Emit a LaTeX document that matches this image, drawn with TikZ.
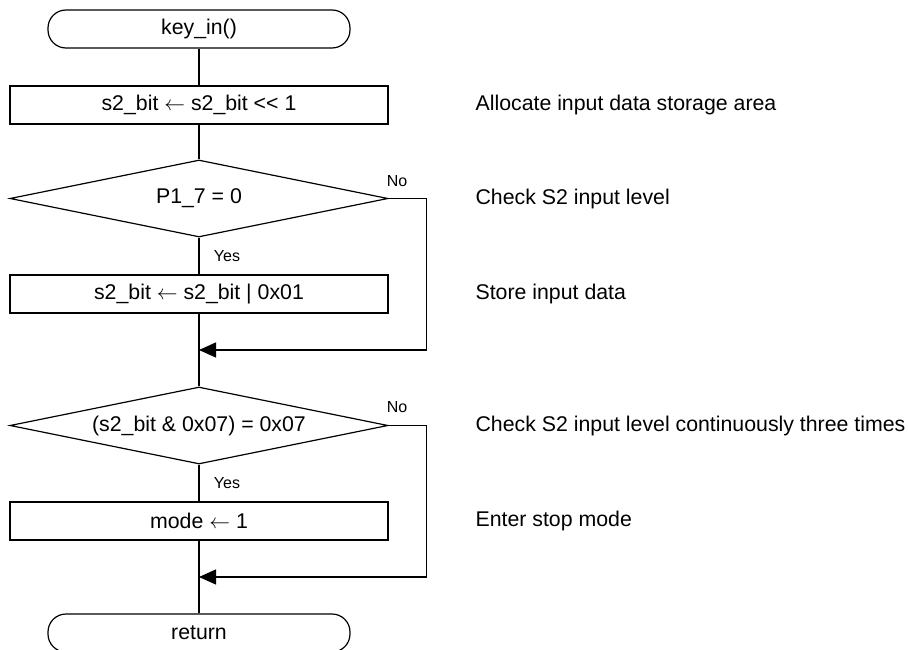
\documentclass[tikz,border=0pt]{standalone}
\usepackage{fontspec}
\setmainfont{Liberation Sans}
\usetikzlibrary{arrows.meta,shapes.geometric}
\begin{document}
\begin{tikzpicture}[x=1pt,y=-1pt,line width=1.2pt,
  base/.style={font=\fontsize{21.3}{25}\selectfont},
  term/.style={base,draw,rounded corners=18pt,minimum width=302pt,minimum height=38pt,inner sep=0pt},
  proc/.style={base,draw,minimum width=378pt,minimum height=38pt,inner sep=0pt},
  dec/.style={base,draw,diamond,aspect=4.9,minimum width=378pt,minimum height=77pt,inner sep=0pt},
  lab/.style={font=\fontsize{16}{19}\selectfont,inner sep=0pt},
  note/.style={base,anchor=west,inner sep=0pt},
  flowarrow/.style={-{Triangle[length=17pt,width=15pt]}}]
\useasboundingbox (0,0) rectangle (908,650);

\node[term] (start) at (199,29) {key\_in()};
\node[proc] (box1) at (199,105) {s2\_bit $\leftarrow$ s2\_bit {<}{<} 1};
\node[dec] (dec1) at (199,198.5) {P1\_7 = 0};
\node[proc] (box2) at (199,294) {s2\_bit $\leftarrow$ s2\_bit | 0x01};
\coordinate (join1) at (199,350);
\node[dec] (dec2) at (199,425.5) {(s2\_bit \& 0x07) = 0x07};
\node[proc] (box3) at (199,521) {mode $\leftarrow$ 1};
\coordinate (join2) at (199,577);
\node[term] (ret) at (199,633) {return};

\draw (start) -- (box1);
\draw (box1) -- (dec1);
\draw (dec1) -- (box2);
\draw (box2) -- (dec2);
\draw (dec2) -- (box3);
\draw (box3) -- (ret);
\draw[flowarrow] (dec1.east) -- ++(38,0) |- (join1);
\draw[flowarrow] (dec2.east) -- ++(38,0) |- (join2);

\node[lab] (no1) at (397,181) {No};
\node[lab] (yes1) at (227,256) {Yes};
\node[lab] (no2) at (397,407) {No};
\node[lab] (yes2) at (227,483) {Yes};

\node[note] (n1) at (475,105) {Allocate input data storage area};
\node[note] (n2) at (475,199) {Check S2 input level};
\node[note] (n3) at (475,294) {Store input data};
\node[note] (n4) at (475,426) {Check S2 input level continuously three times};
\node[note] (n5) at (475,521) {Enter stop mode};
\end{tikzpicture}
\end{document}
